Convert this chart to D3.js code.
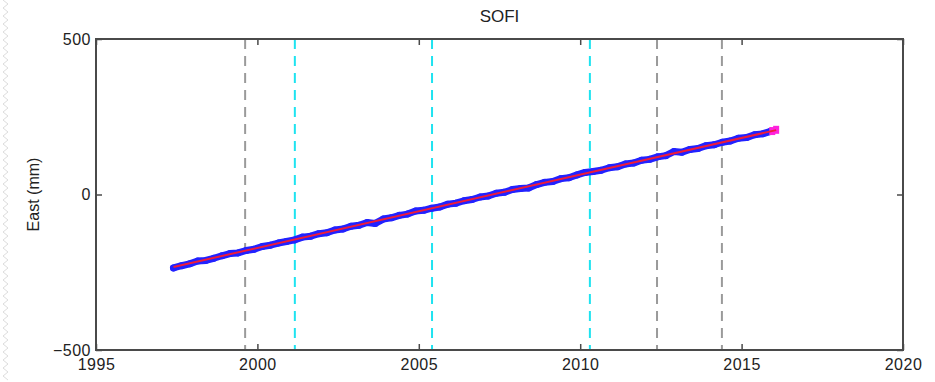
<!DOCTYPE html>
<html>
<head>
<meta charset="utf-8">
<script src="https://cdn.jsdelivr.net/npm/d3@7"></script>
<style>
  body { margin: 0; background: #fff; }
  svg { display: block; font-family: "Liberation Sans", Arial, sans-serif; }
</style>
</head>
<body>
<div id="chart"></div>
<script>
// time of each sample (decimal year), 0.25 yr apart from 1997.4
var startYear = 1997.4;
var stepYear = 0.25;
// East displacement (mm)
var eastValues = [
  -236, -229, -223, -214, -212, -205, -197, -190, -188, -180,
  -176, -167, -163, -156, -151, -146, -137, -134, -126, -123,
  -114, -111, -102, -99, -90, -93, -79, -75, -67, -63,
  -53, -51, -44, -40, -31, -28, -20, -16, -8, -5,
  4, 7, 16, 19, 21, 32, 39, 42, 51, 54,
  63, 71, 74, 78, 86, 89, 98, 101, 110, 113,
  121, 125, 138, 136, 145, 148, 157, 160, 168, 172,
  181, 183, 192, 195, 203
];
// last samples drawn in magenta
var endYears = [2015.95, 2016.07];
var endValues = [204, 208];
// fitted trend line
var fitYears = [1997.4, 2016.07];
var fitValues = [-233, 207];
// event lines
var grayYears = [1999.62, 2012.38, 2014.39];
var cyanYears = [2001.16, 2005.41, 2010.3];
var xTicks = [1995, 2000, 2005, 2010, 2015, 2020];
var yTicks = [-500, 0, 500];

function drawChart() {
    var width = 935, height = 382;
    var left = 96, right = 903, top = 39, bottom = 350;

    var svg = d3.select("#chart").append("svg")
        .attr("width", width)
        .attr("height", height);

    // wavy decoration down the left edge
    var zig = [];
    for (var yy = 0; yy <= height; yy += 8) {
        zig.push([3, yy], [8, yy + 4]);
    }
    svg.append("path")
        .attr("d", d3.line()(zig))
        .attr("fill", "none")
        .attr("stroke", "#ddd")
        .attr("stroke-width", 1);

    var x = d3.scaleLinear().domain([1995, 2020]).range([left, right]);
    var y = d3.scaleLinear().domain([-500, 500]).range([bottom, top]);

    var data = eastValues.map(function (v, i) {
        return { t: startYear + i * stepYear, v: v };
    });

    // event lines
    svg.selectAll(".gray").data(grayYears).enter().append("line")
        .attr("x1", function (d) { return x(d); })
        .attr("x2", function (d) { return x(d); })
        .attr("y1", top)
        .attr("y2", bottom)
        .attr("stroke", "#9a9a9a")
        .attr("stroke-width", 2)
        .attr("stroke-dasharray", "10,7");
    svg.selectAll(".cyan").data(cyanYears).enter().append("line")
        .attr("x1", function (d) { return x(d); })
        .attr("x2", function (d) { return x(d); })
        .attr("y1", top)
        .attr("y2", bottom)
        .attr("stroke", "#1ee3f0")
        .attr("stroke-width", 2)
        .attr("stroke-dasharray", "10,7");

    // blue series band
    var line = d3.line()
        .x(function (d) { return x(d.t); })
        .y(function (d) { return y(d.v); });
    svg.append("path")
        .datum(data)
        .attr("d", line)
        .attr("fill", "none")
        .attr("stroke", "#2222ff")
        .attr("stroke-width", 7)
        .attr("stroke-linejoin", "round")
        .attr("stroke-linecap", "round");
    svg.selectAll(".pt").data(data).enter().append("circle")
        .attr("cx", function (d) { return x(d.t); })
        .attr("cy", function (d) { return y(d.v); })
        .attr("r", 3.5)
        .attr("fill", "#2222ff");

    // magenta end points
    svg.selectAll(".endpt").data(endYears).enter().append("rect")
        .attr("x", function (d) { return x(d) - 3; })
        .attr("y", function (d, i) { return y(endValues[i]) - 4; })
        .attr("width", 6)
        .attr("height", 8)
        .attr("fill", "#ff22dd");

    // red fit
    svg.append("line")
        .attr("x1", x(fitYears[0]))
        .attr("y1", y(fitValues[0]))
        .attr("x2", x(fitYears[1]))
        .attr("y2", y(fitValues[1]))
        .attr("stroke", "#ee1c3a")
        .attr("stroke-width", 2);

    // box and inward ticks
    var axisColor = "#4a4a4a";
    svg.append("rect")
        .attr("x", left)
        .attr("y", top)
        .attr("width", right - left)
        .attr("height", bottom - top)
        .attr("fill", "none")
        .attr("stroke", axisColor)
        .attr("stroke-width", 2);

    var gx = svg.append("g").attr("transform", "translate(0," + bottom + ")")
        .call(d3.axisBottom(x).tickValues(xTicks).tickFormat(d3.format("d"))
            .tickSizeInner(-6).tickSizeOuter(0).tickPadding(9));
    var gxt = svg.append("g").attr("transform", "translate(0," + top + ")")
        .call(d3.axisTop(x).tickValues(xTicks).tickFormat("")
            .tickSizeInner(-6).tickSizeOuter(0));
    var gy = svg.append("g").attr("transform", "translate(" + left + ",0)")
        .call(d3.axisLeft(y).tickValues(yTicks).tickFormat(function (d) { return d < 0 ? "\u2212" + (-d) : d; })
            .tickSizeInner(-6).tickSizeOuter(0).tickPadding(5));
    var gyr = svg.append("g").attr("transform", "translate(" + right + ",0)")
        .call(d3.axisRight(y).tickValues(yTicks).tickFormat("")
            .tickSizeInner(-6).tickSizeOuter(0));

    [gx, gxt, gy, gyr].forEach(function (g) {
        g.select(".domain").remove();
        g.selectAll("line").attr("stroke", axisColor).attr("stroke-width", 1.5);
        g.selectAll("text").attr("fill", "#222")
            .style("font-size", "16px")
            .style("letter-spacing", "0.5px");
    });

    svg.append("text")
        .attr("x", (left + right) / 2)
        .attr("y", 22)
        .attr("text-anchor", "middle")
        .attr("fill", "#222")
        .style("font-size", "17px")
        .text("SOFI");

    svg.append("text")
        .attr("transform", "translate(39," + y(0) + ") rotate(-90)")
        .attr("text-anchor", "middle")
        .attr("fill", "#222")
        .style("font-size", "16px")
        .text("East (mm)");
}

window.addEventListener('load', function () {
    drawChart();
})
</script>
</body>
</html>
